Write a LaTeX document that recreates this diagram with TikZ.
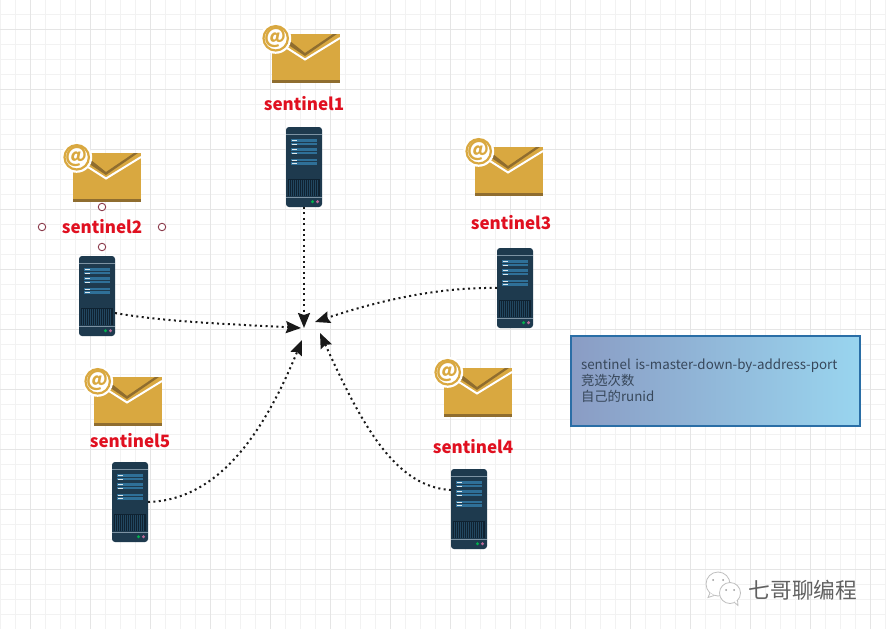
\documentclass[tikz,border=0pt]{standalone}
\usepackage{fontspec}
\setmainfont{Noto Sans CJK SC}
\usetikzlibrary{arrows.meta}
\definecolor{gold}{HTML}{D9A840}
\definecolor{golddark}{HTML}{8F6D2F}
\definecolor{srv}{HTML}{1E3A4E}
\definecolor{srvdark}{HTML}{0F2231}
\definecolor{srvrow}{HTML}{2F7098}
\definecolor{srvline}{HTML}{7D93A3}
\definecolor{redlabel}{HTML}{E01020}
\definecolor{handle}{HTML}{8A3A4A}
\definecolor{HTMLblue}{HTML}{2A6EA6}
\definecolor{boxleft}{HTML}{8A9CC4}
\definecolor{boxright}{HTML}{99D5EF}
\definecolor{boxtext}{HTML}{37475A}
\tikzset{
  gridminor/.style={draw=black!5,line width=.8pt},
  gridmajor/.style={draw=black!10,line width=.9pt},
  srvbox/.style={rectangle,minimum width=36pt,minimum height=80pt,inner sep=0pt,outer sep=0pt,anchor=north west,fill=srv,rounded corners=3pt},
  namelabel/.style={font=\fontsize{17}{20}\selectfont\bfseries,text=redlabel,inner sep=0pt},
  dotline/.style={draw=black!90,line width=2pt,dash pattern=on 2pt off 3.4pt,-{Stealth[length=15pt,width=12pt,inset=2pt]}},
  infobox/.style={rectangle,draw=HTMLblue,line width=2pt,left color=boxleft,right color=boxright,minimum width=289pt,minimum height=90pt,inner xsep=10pt,inner ysep=0pt,outer sep=0pt,anchor=north west,text width=269pt,align=left,text=boxtext,font=\fontsize{13.35}{15.8}\selectfont},
  handledot/.style={circle,draw=handle,fill=white,line width=.9pt,minimum size=7.5pt,inner sep=0pt},
  bubble/.style={draw=black!25,fill=white,line width=.8pt}
}
% envelope whose body has its top left corner at (#1,#2)
\newcommand{\envelope}[2]{%
  \begin{scope}[shift={(#1,#2)}]
    \fill[gold] (0,0) rectangle (68,49);
    \fill[golddark] (0,46) rectangle (68,49);
    \fill[golddark] (65,0) -- (33,22) -- (15,10) -- (18,7) -- (33,19) -- (61,0) -- cycle;
    \draw[white,line width=2pt] (68,4) -- (33,25.5) -- (15,14);
    \fill[white] (3.7,4.3) circle (15.5);
    \draw[gold,line width=2.2pt] (3.7,4.3) circle (12.2);
    \node[text=gold,inner sep=0pt,font=\fontsize{21}{21}\selectfont\bfseries] at (3.7,3.2) {@};
  \end{scope}}
% detail of a server whose top left corner is (#1,#2)
\newcommand{\serverdetail}[2]{%
  \begin{scope}[shift={(#1,#2)}]
    \fill[srvline] (0,6.5) rectangle (36,8);
    \foreach \r in {12,15.7,21,24.7,31.7,35.3}{
      \fill[srvrow] (5,\r) rectangle (31,\r+2.6);
      \fill[white!85!srvrow] (5.5,\r+.8) rectangle (11,\r+1.8);
    }
    \fill[srvdark] (2,52) rectangle (34,69);
    \foreach \k in {0,...,14}{
      \fill[srvrow!25!srv] (3+2*\k,53) rectangle (3.7+2*\k,69);
    }
    \fill[srvline] (0,69.5) rectangle (36,71.2);
    \fill[green!40!teal] (26.5,74.7) circle (1.7);
    \fill[magenta!45!gray] (31.5,74.7) circle (1.7);
  \end{scope}}
\begin{document}
\begin{tikzpicture}[x=1pt,y=-1pt]
\useasboundingbox (0,0) rectangle (886,629);
\fill[white] (0,0) rectangle (886,629);
% grid
\foreach \x in {0,15,...,885}{\draw[gridminor] (\x,0) -- (\x,629);}
\foreach \y in {-1,14,...,629}{\draw[gridminor] (0,\y) -- (886,\y);}
\foreach \x in {30,90,...,885}{\draw[gridmajor] (\x,0) -- (\x,629);}
\foreach \y in {29,89,...,629}{\draw[gridmajor] (0,\y) -- (886,\y);}
% envelopes
\envelope{272}{34}
\envelope{73}{153}
\envelope{475}{147}
\envelope{444}{368}
\envelope{94}{377}
% labels
\node[namelabel] (l1) at (304,104) {sentinel1};
\node[namelabel] (l2) at (102,227) {sentinel2};
\node[namelabel] (l3) at (511,223) {sentinel3};
\node[namelabel] (l4) at (473,447) {sentinel4};
\node[namelabel] (l5) at (130,441) {sentinel5};
% handles round the selected label
\node[handledot] (h1) at (102,207) {};
\node[handledot] (h2) at (42,227) {};
\node[handledot] (h3) at (162,227) {};
\node[handledot] (h4) at (102,247) {};
% servers
\node[srvbox] (s1) at (286,127) {};
\node[srvbox] (s2) at (79,256) {};
\node[srvbox] (s3) at (497,248) {};
\node[srvbox] (s4) at (451,469) {};
\node[srvbox] (s5) at (112,462) {};
\serverdetail{286}{127}
\serverdetail{79}{256}
\serverdetail{497}{248}
\serverdetail{451}{469}
\serverdetail{112}{462}
% connectors
\coordinate (t1) at (304,328);
\coordinate (t2) at (301,328);
\coordinate (t3) at (315,322);
\coordinate (t4) at (320,333);
\coordinate (t5) at (302,340);
\draw[dotline] (s1.south) -- (t1);
\draw[dotline] ([yshift=-17pt]s2.east) .. controls (165,322) and (230,324) .. (t2);
\draw[dotline] (s3.west) .. controls (440,287) and (380,300) .. (t3);
\draw[dotline] ([yshift=19pt]s4.west) .. controls (395,487) and (362,425) .. (t4);
\draw[dotline] (s5.east) .. controls (220,500) and (265,430) .. (t5);
% info box
\node[infobox] (info) at (571,336) {sentinel is-master-down-by-address-port\\竞选次数\\自己的runid};
% watermark
\draw[bubble] (718,584) circle (12);
\draw[bubble] (710,593) -- (708,597.5) -- (714,595.5);
\draw[bubble] (730,593) circle (10.5);
\draw[bubble] (734,602) -- (738,605.5) -- (737.5,600);
\fill[black!40] (713,580) circle (1) (723,580) circle (1) (726,590) circle (1) (734,590) circle (1);
\node[inner sep=0pt,anchor=west,text=black!62,font=\fontsize{21.7}{24}\selectfont] (mark) at (748.5,590) {七哥聊编程};
\end{tikzpicture}
\end{document}
